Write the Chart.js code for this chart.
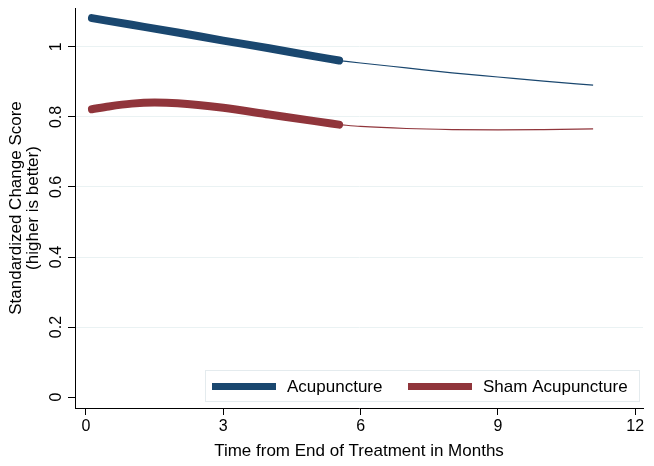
<!DOCTYPE html>
<html>
<head>
<meta charset="utf-8">
<script src="https://cdn.jsdelivr.net/npm/chart.js@4.4.0/dist/chart.umd.min.js"></script>
<style>
  html, body { margin: 0; padding: 0; background: #fff; }
  #wrap { width: 654px; height: 466px; }
</style>
</head>
<body>
<div id="wrap"><canvas id="chart"></canvas></div>
<script>
const acuX = [0.13, 1, 2, 3, 4, 5, 5.53];
const acuY = [1.082, 1.063, 1.041, 1.018, 0.996, 0.973, 0.961];
const acuExtX = [5.53, 6, 7, 8, 9, 10, 11.08];
const acuExtY = [0.961, 0.954, 0.940, 0.926, 0.914, 0.902, 0.891];

const shamX = [0.13, 0.5, 1, 1.5, 2, 3, 4, 5, 5.53];
const shamY = [0.822, 0.830, 0.838, 0.841, 0.839, 0.826, 0.807, 0.788, 0.778];
const shamExtX = [5.53, 6, 7, 8, 9, 10, 11.08];
const shamExtY = [0.778, 0.773, 0.767, 0.764, 0.763, 0.764, 0.766];

const xTicks = [0, 3, 6, 9, 12];
const yTicks = [0, 0.2, 0.4, 0.6, 0.8, 1];
const seriesNames = ['Acupuncture', 'Sham Acupuncture'];

const BLUE = '#1a476f';
const RED = '#90353b';
const FONT = '"Liberation Sans", Arial, sans-serif';

const pts = (xs, ys) => xs.map((x, i) => ({ x, y: ys[i] }));

function thick(label, xs, ys, color) {
  return {
    label, data: pts(xs, ys), borderColor: color, backgroundColor: color,
    borderWidth: 8, borderCapStyle: 'round', pointRadius: 0,
    cubicInterpolationMode: 'monotone', fill: false,
  };
}
function thin(label, xs, ys, color) {
  return {
    label, data: pts(xs, ys), borderColor: color, backgroundColor: color,
    borderWidth: 1.2, pointRadius: 0,
    cubicInterpolationMode: 'monotone', fill: false,
  };
}

// y tick labels are rotated like Stata's, so they are drawn here
const yLabels = {
  id: 'yLabels',
  afterDraw(chart) {
    const { ctx } = chart;
    const y = chart.scales.y;
    ctx.save();
    ctx.fillStyle = '#000';
    ctx.font = '16px ' + FONT;
    ctx.textAlign = 'center';
    ctx.textBaseline = 'middle';
    yTicks.forEach(v => {
      const py = y.getPixelForValue(v);
      ctx.save();
      ctx.translate(57, py);
      ctx.rotate(-Math.PI / 2);
      ctx.fillText(v === 0 || v === 1 ? String(v) : v.toFixed(1), 0, 0);
      ctx.restore();
    });
    ctx.restore();
  }
};

// legend box sitting inside the plot, bottom right
const insideLegend = {
  id: 'insideLegend',
  afterDatasetsDraw(chart) {
    const { ctx, chartArea } = chart;
    const right = chartArea.right - 3;
    const bottom = chartArea.bottom - 6;
    const w = 435, h = 32;
    const left = right - w, top = bottom - h;
    ctx.save();
    ctx.fillStyle = '#fff';
    ctx.fillRect(left, top, w, h);
    ctx.strokeStyle = '#e4ebee';
    ctx.lineWidth = 1;
    ctx.strokeRect(left + 0.5, top + 0.5, w - 1, h - 1);
    const cy = top + h / 2 + 0.5;
    const items = [
      { x: left + 7, color: chart.data.datasets[0].borderColor, text: seriesNames[0] },
      { x: left + 203, color: chart.data.datasets[1].borderColor, text: seriesNames[1] },
    ];
    ctx.font = '17px ' + FONT;
    ctx.textBaseline = 'middle';
    items.forEach(it => {
      ctx.fillStyle = it.color;
      ctx.fillRect(it.x, cy - 3.5, 64, 7);
      ctx.fillStyle = '#000';
      ctx.fillText(it.text, it.x + 75, cy + 1);
    });
    ctx.restore();
  }
};

new Chart(document.getElementById('chart'), {
  type: 'line',
  data: {
    datasets: [
      thick(seriesNames[0], acuX, acuY, BLUE),
      thick(seriesNames[1], shamX, shamY, RED),
      thin(seriesNames[0] + ' (extrapolated)', acuExtX, acuExtY, BLUE),
      thin(seriesNames[1] + ' (extrapolated)', shamExtX, shamExtY, RED),
    ],
  },
  plugins: [yLabels, insideLegend],
  options: {
    responsive: true,
    maintainAspectRatio: false,
    animation: false,
    layout: { padding: { top: 8, right: 11, left: 0, bottom: 0 } },
    plugins: {
      legend: { display: false },
      tooltip: { enabled: false },
    },
    scales: {
      x: {
        type: 'linear',
        min: -0.24,
        max: 12.17,
        afterBuildTicks: s => { s.ticks = xTicks.map(v => ({ value: v })); },
        afterFit: s => { s.height = 58; },
        border: { display: true, color: '#000', width: 1 },
        grid: { drawOnChartArea: false, drawTicks: true, tickLength: 7, tickColor: '#000' },
        ticks: { color: '#000', font: { family: FONT, size: 16 }, padding: 2, maxRotation: 0 },
        title: {
          display: true, text: 'Time from End of Treatment in Months', color: '#000',
          font: { family: FONT, size: 17, lineHeight: 1 }, padding: { top: 0, bottom: 6 },
        },
      },
      y: {
        type: 'linear',
        min: -0.031,
        max: 1.111,
        afterBuildTicks: s => { s.ticks = yTicks.map(v => ({ value: v })); },
        afterFit: s => { s.width = 75; },
        border: { display: true, color: '#000', width: 1 },
        grid: {
          drawTicks: true, tickLength: 7, tickColor: '#000',
          color: ctx => (ctx.tick && ctx.tick.value === 0 ? 'rgba(0,0,0,0)' : '#eaf2f3'),
        },
        ticks: { display: false },
        title: {
          display: true, text: ['Standardized Change Score', '(higher is better)'], color: '#000',
          font: { family: FONT, size: 17, lineHeight: 1 }, padding: { top: 8, bottom: 0 },
        },
      },
    },
  },
});
</script>
</body>
</html>
